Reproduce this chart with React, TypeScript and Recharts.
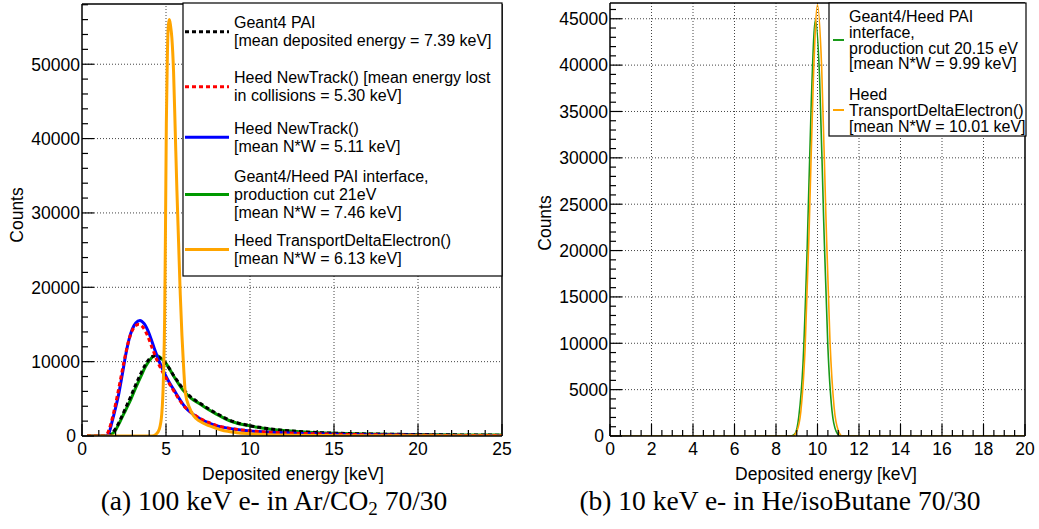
import React from 'react';
import { LineChart, Line, XAxis, YAxis, ReferenceLine } from 'recharts';

const SANS = '"Liberation Sans", Arial, Helvetica, sans-serif';
const SERIF = '"Liberation Serif", "Times New Roman", serif';

// ---------- Panel (a): 100 keV e- in Ar/CO2 70/30 ----------
const paiX = [0.3, 1.5, 1.7, 2.0, 2.3, 2.6, 2.9, 3.2, 3.5, 3.8, 4.0, 4.2, 4.4, 4.6, 4.8, 5.0, 5.5, 6.0, 6.5, 7.0, 7.5, 8.0, 8.5, 9.0, 10, 11, 12, 13, 14, 15, 17, 20, 22.5, 25];
const paiY = [0, 0, 250, 1000, 2300, 3800, 5300, 6900, 8400, 9700, 10350, 10700, 10800, 10550, 10150, 9700, 8000, 6400, 5200, 4450, 3700, 3050, 2450, 1950, 1400, 1020, 760, 590, 470, 385, 280, 200, 150, 110];

const interfaceX = [0.3, 1.5, 1.7, 2.0, 2.3, 2.6, 2.9, 3.2, 3.5, 3.8, 4.0, 4.2, 4.4, 4.6, 4.8, 5.0, 5.5, 6.0, 6.5, 7.0, 7.5, 8.0, 8.5, 9.0, 10, 11, 12, 13, 14, 15, 17, 20, 22.5, 25];
const interfaceY = [0, 0, 150, 800, 2100, 3500, 4900, 6500, 8000, 9400, 10100, 10650, 10870, 10650, 10250, 9750, 7900, 6200, 5050, 4350, 3600, 2950, 2350, 1880, 1350, 980, 730, 570, 450, 370, 270, 190, 145, 120];

const newTrackX = [0.3, 1.4, 1.6, 1.8, 2.0, 2.2, 2.4, 2.6, 2.8, 3.0, 3.2, 3.45, 3.7, 4.0, 4.3, 4.6, 4.9, 5.2, 5.5, 5.8, 6.1, 6.5, 7.0, 7.5, 8.0, 9.0, 10, 11, 12, 13, 15, 17, 20, 25];
const newTrackY = [0, 0, 400, 2000, 3800, 5800, 8300, 10900, 13000, 14400, 15200, 15550, 15100, 13750, 11800, 10000, 8500, 7200, 6100, 5000, 4000, 3100, 2350, 1800, 1400, 950, 680, 530, 430, 350, 240, 170, 100, 50];

const collisionX = [0.3, 1.3, 1.5, 1.7, 1.9, 2.1, 2.3, 2.5, 2.7, 2.9, 3.1, 3.35, 3.6, 3.9, 4.2, 4.5, 4.8, 5.1, 5.4, 5.7, 6.0, 6.5, 7.0, 7.5, 8.0, 9.0, 10, 11, 12, 13, 15, 17, 20, 25];
const collisionY = [0, 0, 300, 1500, 3300, 5400, 7700, 10000, 12100, 13700, 14600, 15000, 14700, 13500, 11700, 10000, 8600, 7400, 6300, 5200, 4200, 3200, 2400, 1850, 1420, 960, 690, 530, 430, 350, 240, 170, 100, 50];

const deltaX = [0.3, 4.15, 4.4, 4.6, 4.75, 4.85, 4.92, 4.97, 5.02, 5.08, 5.14, 5.2, 5.27, 5.35, 5.45, 5.55, 5.65, 5.75, 5.85, 5.95, 6.05, 6.15, 6.4, 6.65, 7.0, 7.6, 8.3, 9.2, 10, 12, 15, 20, 25];
const deltaY = [0, 0, 200, 900, 3000, 8000, 16000, 28000, 42000, 51000, 55200, 56000, 55200, 53500, 49000, 41000, 33000, 26000, 19000, 13500, 9200, 5800, 3800, 2700, 2000, 1350, 800, 450, 300, 120, 50, 20, 10];

const aXMax = 25;
const aYMax = 58100;

// ---------- Panel (b): 10 keV e- in He/isoButane 70/30 ----------
const bInterfaceX = [0, 8.7, 8.9, 9.1, 9.3, 9.5, 9.7, 9.9, 10.1, 10.3, 10.5, 10.7, 10.9, 11.1, 20];
const bInterfaceY = [0, 0, 200, 2100, 7700, 20000, 36000, 44900, 38700, 23100, 9600, 2700, 500, 0, 0];

const bDeltaX = [0, 8.8, 9.0, 9.2, 9.4, 9.6, 9.8, 10.0, 10.2, 10.4, 10.6, 10.8, 11.0, 11.2, 20];
const bDeltaY = [0, 0, 500, 2700, 9300, 22500, 38400, 46500, 39800, 24100, 10300, 3100, 600, 0, 0];

const bXMax = 20;
const bYMax = 46700;

// ---------- texts ----------
const xTitle = 'Deposited energy [keV]';
const yTitle = 'Counts';
const legendA = [
  { lines: ['Geant4 PAI', '[mean deposited energy = 7.39 keV]'], color: '#000000', dash: '4 3' },
  { lines: ['Heed NewTrack() [mean energy lost', 'in collisions = 5.30 keV]'], color: '#ff0000', dash: '4 3' },
  { lines: ['Heed NewTrack()', '[mean N*W = 5.11 keV]'], color: '#0000ff', dash: '' },
  { lines: ['Geant4/Heed PAI interface,', 'production cut 21eV', '[mean N*W = 7.46 keV]'], color: '#009900', dash: '' },
  { lines: ['Heed TransportDeltaElectron()', '[mean N*W = 6.13 keV]'], color: '#ffa500', dash: '' },
];
const legendB = [
  { lines: ['Geant4/Heed PAI', 'interface,', 'production cut 20.15 eV', '[mean N*W = 9.99 keV]'], color: '#1a9a1a' },
  { lines: ['Heed', 'TransportDeltaElectron()', '[mean N*W = 10.01 keV]'], color: '#ffa500' },
];

const toPoints = (xs: number[], ys: number[]) => xs.map((x, i) => ({ x, y: ys[i] }));

function range(start: number, stop: number, step: number) {
  const out: number[] = [];
  const n = Math.round((stop - start) / step);
  for (let i = 0; i <= n; i++) out.push(+(start + i * step).toFixed(3));
  return out;
}

const isMajor = (v: number, step: number) => Math.abs(v / step - Math.round(v / step)) < 1e-6;

const FS = 17.5;

const makeXTick = (step: number) => (props: any) => {
  const { x, y, payload } = props;
  const v = payload.value;
  const maj = isMajor(v, step);
  return (
    <g>
      <line x1={x} x2={x} y1={y} y2={y - (maj ? 12 : 6)} stroke="#000" strokeWidth={1.2} />
      {maj && (
        <text x={x} y={y + 18.5} textAnchor="middle" fontSize={FS} fontFamily={SANS} fill="#000">
          {v}
        </text>
      )}
    </g>
  );
};

const makeYTick = (step: number) => (props: any) => {
  const { x, y, payload } = props;
  const v = payload.value;
  const maj = isMajor(v, step);
  return (
    <g>
      <line x1={x} x2={x + (maj ? 12 : 6)} y1={y} y2={y} stroke="#000" strokeWidth={1.2} />
      {maj && (
        <text x={x - (v === 0 ? 6 : 2)} y={y + 6.3} textAnchor="end" fontSize={FS} fontFamily={SANS} fill="#000">
          {v}
        </text>
      )}
    </g>
  );
};

const gridStyle = { stroke: '#444', strokeDasharray: '1 2', strokeWidth: 1 };

function PanelA() {
  const xTicks = range(0, 25, 1);
  const yTicks = range(0, 58000, 2000);
  const xGrid = [5, 10, 15, 20];
  const yGrid = [10000, 20000, 30000, 40000, 50000];
  return (
    <LineChart width={520} height={460} margin={{ top: 4, right: 18, bottom: 0, left: 0 }}>
      <XAxis
        dataKey="x"
        type="number"
        domain={[0, aXMax]}
        ticks={xTicks}
        interval={0}
        height={24}
        tickSize={0}
        tickMargin={0}
        tickLine={false}
        tick={makeXTick(5)}
        axisLine={{ stroke: '#000', strokeWidth: 1.5 }}
        allowDataOverflow
      />
      <YAxis
        type="number"
        domain={[0, aYMax]}
        ticks={yTicks}
        interval={0}
        width={82}
        tickSize={0}
        tickMargin={0}
        tickLine={false}
        tick={makeYTick(10000)}
        axisLine={{ stroke: '#000', strokeWidth: 1.5 }}
        allowDataOverflow
      />
      {xGrid.map((v) => (
        <ReferenceLine key={'gx' + v} x={v} {...gridStyle} />
      ))}
      {yGrid.map((v) => (
        <ReferenceLine key={'gy' + v} y={v} {...gridStyle} />
      ))}
      <ReferenceLine y={aYMax} stroke="#000" strokeWidth={1.5} />
      <ReferenceLine x={aXMax} stroke="#000" strokeWidth={1.5} />
      <Line data={toPoints(interfaceX, interfaceY)} dataKey="y" type="monotone" stroke="#009900" strokeWidth={3} dot={false} isAnimationActive={false} />
      <Line data={toPoints(paiX, paiY)} dataKey="y" type="monotone" stroke="#000000" strokeWidth={3} strokeDasharray="4 3" dot={false} isAnimationActive={false} />
      <Line data={toPoints(newTrackX, newTrackY)} dataKey="y" type="monotone" stroke="#0000ff" strokeWidth={3} dot={false} isAnimationActive={false} />
      <Line data={toPoints(collisionX, collisionY)} dataKey="y" type="monotone" stroke="#ff0000" strokeWidth={3} strokeDasharray="4 3" dot={false} isAnimationActive={false} />
      <Line data={toPoints(deltaX, deltaY)} dataKey="y" type="monotone" stroke="#ffa500" strokeWidth={3} dot={false} isAnimationActive={false} />
    </LineChart>
  );
}

function PanelB() {
  const xTicks = range(0, 20, 0.5);
  const yTicks = range(0, 46000, 1000);
  const xGrid = range(2, 18, 2);
  const yGrid = range(5000, 45000, 5000);
  return (
    <LineChart width={519} height={460} margin={{ top: 3, right: 14, bottom: 0, left: 0 }}>
      <XAxis
        dataKey="x"
        type="number"
        domain={[0, bXMax]}
        ticks={xTicks}
        interval={0}
        height={24}
        tickSize={0}
        tickMargin={0}
        tickLine={false}
        tick={makeXTick(2)}
        axisLine={{ stroke: '#000', strokeWidth: 1.5 }}
        allowDataOverflow
      />
      <YAxis
        type="number"
        domain={[0, bYMax]}
        ticks={yTicks}
        interval={0}
        width={90}
        tickSize={0}
        tickMargin={0}
        tickLine={false}
        tick={makeYTick(5000)}
        axisLine={{ stroke: '#000', strokeWidth: 1.5 }}
        allowDataOverflow
      />
      {xGrid.map((v) => (
        <ReferenceLine key={'gx' + v} x={v} {...gridStyle} />
      ))}
      {yGrid.map((v) => (
        <ReferenceLine key={'gy' + v} y={v} {...gridStyle} />
      ))}
      <ReferenceLine y={bYMax} stroke="#000" strokeWidth={1.5} />
      <ReferenceLine x={bXMax} stroke="#000" strokeWidth={1.5} />
      <Line data={toPoints(bInterfaceX, bInterfaceY)} dataKey="y" type="monotone" stroke="#1a9a1a" strokeWidth={1.6} dot={false} isAnimationActive={false} />
      <Line data={toPoints(bDeltaX, bDeltaY)} dataKey="y" type="monotone" stroke="#ffa000" strokeWidth={1.6} dot={false} isAnimationActive={false} />
    </LineChart>
  );
}

function LegendBox({ x, y, w, h, entries, centers, lineGap, sampleX1, sampleX2, textX, sampleWidth }: any) {
  return (
    <g>
      <rect x={x} y={y} width={w} height={h} fill="#fff" stroke="#000" strokeWidth={1.2} />
      {entries.map((e: any, i: number) => {
        const cy = centers[i];
        const n = e.lines.length;
        return (
          <g key={i}>
            <line x1={x + sampleX1} x2={x + sampleX2} y1={cy} y2={cy} stroke={e.color} strokeWidth={sampleWidth} strokeDasharray={e.dash || undefined} />
            {e.lines.map((t: string, j: number) => (
              <text key={j} x={x + textX} y={cy + (j - (n - 1) / 2) * lineGap + 5.7} fontSize={16} fontFamily={SANS} fill="#000">
                {t}
              </text>
            ))}
          </g>
        );
      })}
    </g>
  );
}

export default function App() {
  return (
    <div style={{ position: 'absolute', left: 0, top: 0, width: 1039, height: 529, background: '#fff', overflow: 'hidden' }}>
      <div style={{ position: 'absolute', left: 0, top: 0 }}>
        <PanelA />
      </div>
      <div style={{ position: 'absolute', left: 520, top: 0 }}>
        <PanelB />
      </div>
      <svg width={1039} height={529} style={{ position: 'absolute', left: 0, top: 0, pointerEvents: 'none' }}>
        <LegendBox x={183} y={3} w={319} h={273} entries={legendA} centers={[31.7, 86.7, 137.2, 194.5, 249.5]} lineGap={18} sampleX1={2} sampleX2={46} textX={51} sampleWidth={3} />
        <LegendBox x={829} y={3} w={197} h={133} entries={legendB} centers={[40, 110]} lineGap={15.8} sampleX1={4} sampleX2={15} textX={20} sampleWidth={2} />
        <text x={293} y={480} textAnchor="middle" fontSize={FS} fontFamily={SANS} fill="#000">{xTitle}</text>
        <text x={826} y={480} textAnchor="middle" fontSize={FS} fontFamily={SANS} fill="#000">{xTitle}</text>
        <text x={17} y={215} transform="rotate(-90 17 215)" textAnchor="middle" dominantBaseline="central" fontSize={FS} fontFamily={SANS} fill="#000">{yTitle}</text>
        <text x={545} y={223} transform="rotate(-90 545 223)" textAnchor="middle" dominantBaseline="central" fontSize={FS} fontFamily={SANS} fill="#000">{yTitle}</text>
        <text x={274} y={510} textAnchor="middle" fontSize={27.5} fontFamily={SERIF} fill="#000">
          (a) 100 keV e- in Ar/CO<tspan dy={5} fontSize={19}>2</tspan><tspan dy={-5}> 70/30</tspan>
        </text>
        <text x={780} y={510} textAnchor="middle" fontSize={27.5} fontFamily={SERIF} fill="#000">
          (b) 10 keV e- in He/isoButane 70/30
        </text>
      </svg>
    </div>
  );
}
